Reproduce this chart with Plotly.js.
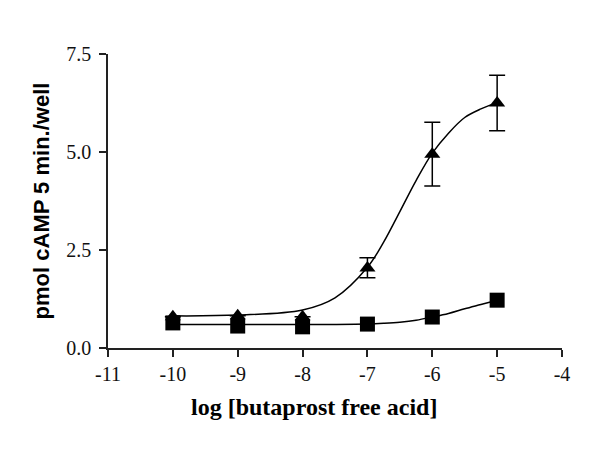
<!DOCTYPE html>
<html>
<head>
<meta charset="utf-8">
<script src="https://cdn.plot.ly/plotly-3.0.1.min.js"></script>
<style>
  body { margin: 0; background: #fff; }
  #plot { width: 600px; height: 449px; }
</style>
</head>
<body>
<div id="plot"></div>
<script>
// measured points (log concentration)
let doseX = [-10, -9, -8, -7, -6, -5];
let triangleY = [0.80, 0.82, 0.80, 2.04, 4.94, 6.25];
let triangleErrPlus = [0, 0, 0, 0.26, 0.82, 0.71];
let triangleErrMinus = [0, 0, 0, 0.25, 0.81, 0.71];
let squareY = [0.64, 0.56, 0.54, 0.61, 0.79, 1.22];

// fitted curves
let curveX = [-10, -9, -8, -7.5, -7, -6.75, -6.5, -6.25, -6, -5.75, -5.5, -5.25, -5];
let triangleCurve = [0.82, 0.84, 0.97, 1.28, 2.06, 2.70, 3.48, 4.27, 4.97, 5.48, 5.88, 6.10, 6.26];
let squareCurve = [0.60, 0.60, 0.60, 0.60, 0.61, 0.63, 0.66, 0.71, 0.79, 0.88, 1.00, 1.11, 1.22];

let xTicks = [-11, -10, -9, -8, -7, -6, -5, -4];
let xTickText = ["-11", "-10", "-9", "-8", "-7", "-6", "-5", "-4"];
let yTicks = [0, 2.5, 5, 7.5];
let yTickText = ["0.0", "2.5", "5.0", "7.5"];

let serif = "'Liberation Serif', 'DejaVu Serif', serif";

let triLine = {
  x: curveX,
  y: triangleCurve,
  mode: "lines",
  line: {color: "black", width: 1.5, shape: "spline"},
  hoverinfo: "skip"
};

let sqLine = {
  x: curveX,
  y: squareCurve,
  mode: "lines",
  line: {color: "black", width: 1.5, shape: "spline"},
  hoverinfo: "skip"
};

let triPoints = {
  x: doseX,
  y: triangleY,
  mode: "markers",
  marker: {symbol: "triangle-up", size: 14, color: "black"},
  error_y: {
    type: "data",
    symmetric: false,
    array: triangleErrPlus,
    arrayminus: triangleErrMinus,
    color: "black",
    thickness: 1.5,
    width: 8
  }
};

let sqPoints = {
  x: doseX,
  y: squareY,
  mode: "markers",
  marker: {symbol: "square", size: 15, color: "black"}
};

let layout = {
  width: 600,
  height: 449,
  showlegend: false,
  paper_bgcolor: "white",
  plot_bgcolor: "white",
  margin: {l: 108, r: 38, t: 54, b: 101},
  xaxis: {
    range: [-11, -4],
    tickvals: xTicks,
    ticktext: xTickText,
    ticks: "outside",
    ticklen: 7,
    tickwidth: 1.5,
    tickcolor: "#222",
    showline: true,
    linecolor: "#222",
    linewidth: 1.5,
    showgrid: false,
    zeroline: false,
    tickfont: {family: serif, size: 20, color: "#111"}
  },
  yaxis: {
    range: [0, 7.5],
    tickvals: yTicks,
    ticktext: yTickText,
    ticks: "outside",
    ticklen: 7,
    tickwidth: 1.5,
    tickcolor: "#222",
    ticklabelstandoff: 4,
    showline: true,
    linecolor: "#222",
    linewidth: 1.5,
    showgrid: false,
    zeroline: false,
    tickfont: {family: serif, size: 20, color: "#111"},
    title: {
      text: "pmol cAMP 5 min./well",
      font: {family: "'Liberation Sans', Arial, sans-serif", size: 22, color: "black", weight: "bold"},
      standoff: 11
    }
  },
  annotations: [{
    text: "log [butaprost free acid]",
    xref: "paper",
    yref: "paper",
    x: 0.4537,
    y: -0.2007,
    xanchor: "center",
    yanchor: "middle",
    showarrow: false,
    font: {family: serif, size: 24, color: "black", weight: "bold"}
  }]
};

Plotly.newPlot("plot", [triLine, sqLine, triPoints, sqPoints], layout, {displayModeBar: false});
</script>
</body>
</html>
